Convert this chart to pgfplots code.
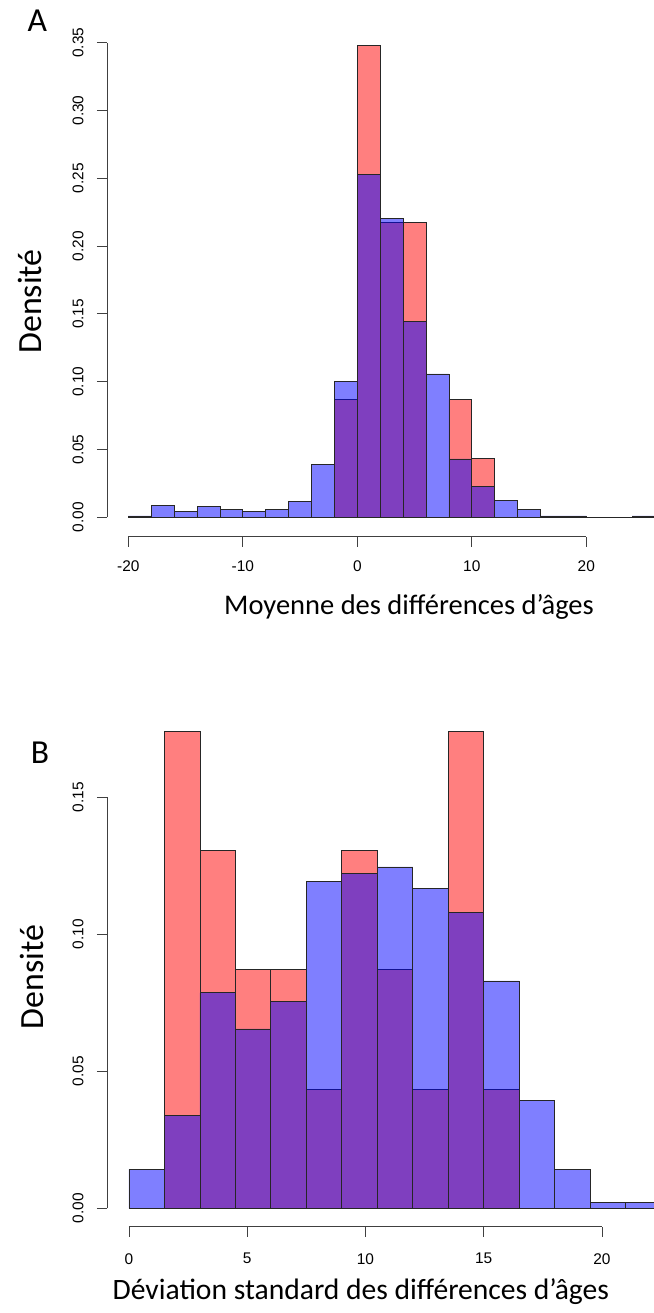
\documentclass[border=0pt]{standalone}
\usepackage{fontspec}
\setmainfont{Carlito}
\newfontfamily\arialfont{Liberation Sans}
\usepackage{pgfplots}
\pgfplotsset{compat=1.18}

% R-like histogram style
\pgfplotsset{
  rhist/.style={
    scale only axis,
    anchor=south west,
    width=547bp, height=506.7bp,
    axis lines*=left,
    axis line style={draw=none},
    tick align=outside,
    major tick length=10bp,
    tick style={black!75, line width=0.9bp},
    clip mode=individual,
    scaled y ticks=false,
    x tick label as interval=false,
    tick label style={font=\arialfont\fontsize{15.5}{16}\selectfont},
    /pgf/number format/assume math mode=true,
    xticklabel shift=11bp,
    yticklabel shift=10bp,
    yticklabel style={rotate=90, anchor=south,
      /pgf/number format/.cd, fixed, fixed zerofill, precision=2},
  },
  redbar/.style={ybar interval, fill=red, fill opacity=0.5, draw=black!85, line width=0.8bp},
  bluebar/.style={ybar interval, fill=blue, fill opacity=0.5, draw=black!85, line width=0.8bp},
}

\begin{document}
\begin{tikzpicture}
\path[use as bounding box] (0,0) rectangle (654bp,1313bp);

% ---------- A : moyenne ----------
\begin{axis}[rhist,
  at={(107bp,776.3bp)},
  xmin=-21.86, xmax=25.91,
  ymin=-0.01431, ymax=0.3594,
  xtick={-20,-10,0,10,20},
  ytick={0,0.05,0.10,0.15,0.20,0.25,0.30,0.35},
]
\addplot[redbar] coordinates {
  (-2,0.087) (0,0.348) (2,0.2174) (4,0.2174) (6,0) (8,0.087) (10,0.0435) (12,0)
};
\addplot[bluebar] coordinates {
  (-20,0.001) (-18,0.0088) (-16,0.0044) (-14,0.0078) (-12,0.0056) (-10,0.0044)
  (-8,0.0056) (-6,0.0115) (-4,0.0388) (-2,0.1005) (0,0.253) (2,0.2207)
  (4,0.1445) (6,0.1057) (8,0.043) (10,0.0226) (12,0.0125) (14,0.0056)
  (16,0.001) (18,0.001) (20,0) (22,0) (24,0.001) (26,0)
};
\draw[black!75, line width=0.9bp] (axis cs:-20,-0.01431) -- (axis cs:20,-0.01431);
\draw[black!75, line width=0.9bp] (axis cs:-21.86,0) -- (axis cs:-21.86,0.35);
\end{axis}

% ---------- B : deviation standard ----------
\begin{axis}[rhist,
  at={(107bp,86.3bp)},
  xmin=-0.930, xmax=22.199,
  ymin=-0.00671, ymax=0.17808,
  xtick={0,5,10,15,20},
  ytick={0,0.05,0.10,0.15},
  xticklabel shift=13bp,
]
\addplot[redbar] coordinates {
  (1.5,0.1738) (3,0.1304) (4.5,0.0870) (6,0.0870) (7.5,0.0435) (9,0.1304)
  (10.5,0.0870) (12,0.0435) (13.5,0.1739) (15,0.0435) (16.5,0)
};
\addplot[bluebar] coordinates {
  (0,0.0142) (1.5,0.0339) (3,0.0786) (4.5,0.0654) (6,0.0754) (7.5,0.1191)
  (9,0.1222) (10.5,0.1245) (12,0.1168) (13.5,0.1080) (15,0.0829) (16.5,0.0392)
  (18,0.0142) (19.5,0.0020) (21,0.0020) (22.5,0)
};
\draw[black!75, line width=0.9bp] (axis cs:0,-0.00671) -- (axis cs:20,-0.00671);
\draw[black!75, line width=0.9bp] (axis cs:-0.930,0) -- (axis cs:-0.930,0.15);
\end{axis}

% labels
\node[anchor=base, font=\fontsize{33.7}{36}\selectfont, inner sep=0pt] at (37.3bp,1281.3bp) {A};
\node[anchor=base, font=\fontsize{33.7}{36}\selectfont, inner sep=0pt] at (40bp,549.7bp) {B};
\node[anchor=base, rotate=90, font=\fontsize{34}{36}\selectfont, inner sep=0pt] at (41bp,1011.5bp) {Densité};
\node[anchor=base, rotate=90, font=\fontsize{34}{36}\selectfont, inner sep=0pt] at (43bp,336bp) {Densité};
\node[anchor=base, font=\fontsize{28.6}{30}\selectfont, inner sep=0pt] at (409bp,698bp) {Moyenne des différences d’âges};
\node[anchor=base, font=\fontsize{29.7}{31}\selectfont, inner sep=0pt] at (360.8bp,13.7bp) {Déviation standard des différences d’âges};
\end{tikzpicture}
\end{document}
